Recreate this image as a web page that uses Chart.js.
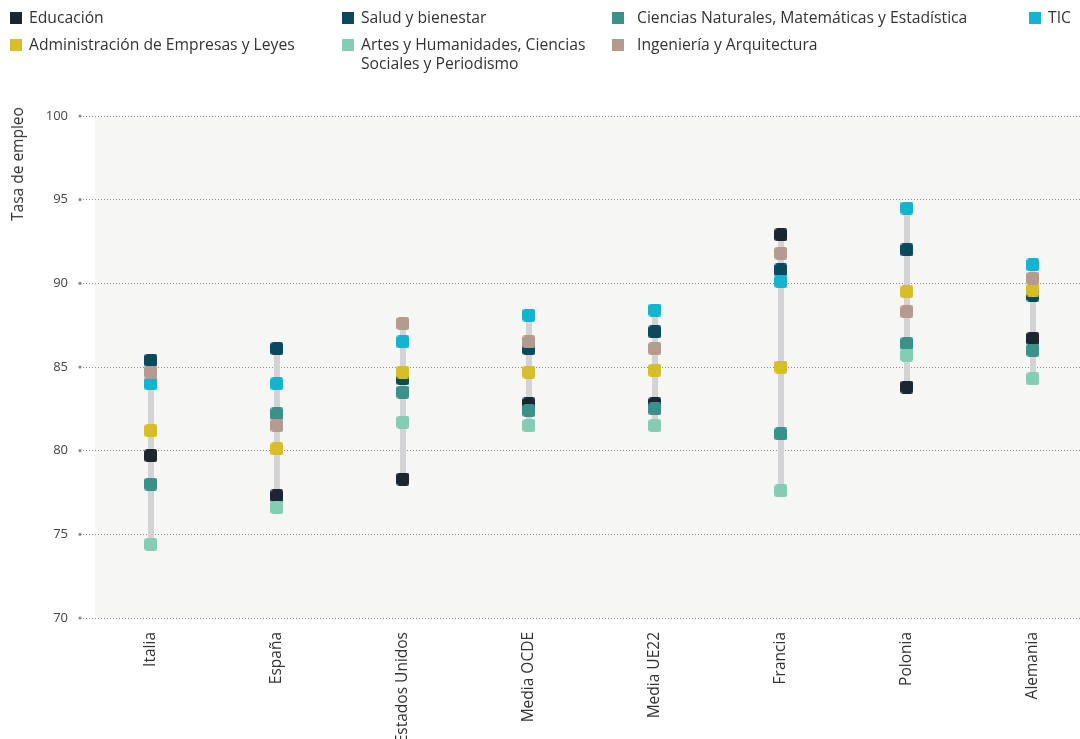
<!DOCTYPE html>
<html><head><meta charset="utf-8">
<script src="https://cdn.jsdelivr.net/npm/chart.js@4/dist/chart.umd.min.js"></script>
<style>
body{margin:0;background:#fff;font-family:"Open Sans",sans-serif;}
#wrap{position:relative;width:1080px;height:739px;overflow:hidden;}
#c{position:absolute;left:0;top:0;}
.li{position:absolute;font-size:15.7px;color:#333;line-height:19px;}
.li .sw{position:absolute;left:0;top:4px;width:12px;height:12px;}
.li .tx{display:block;}
#ytitle{position:absolute;left:17px;top:164px;transform:translate(-50%,-50%) rotate(-90deg);font-size:15.5px;color:#333;white-space:nowrap;}
</style></head>
<body>
<div id="wrap">
<canvas id="c" width="1080" height="739"></canvas>
<div id="legend"></div>
<div id="ytitle">Tasa de empleo</div>
</div>
<script>
const categories = ["Italia","España","Estados Unidos","Media OCDE","Media UE22","Francia","Polonia","Alemania"];
const seriesNames = ["Educación","Salud y bienestar","Ciencias Naturales, Matemáticas y Estadística","TIC","Administración de Empresas y Leyes","Artes y Humanidades, Ciencias Sociales y Periodismo","Ingeniería y Arquitectura"];
const educacion  = [79.7, 77.3, 78.3, 82.8, 82.8, 92.9, 83.8, 86.7];
const salud      = [85.4, 86.1, 84.3, 86.1, 87.1, 90.8, 92.0, 89.3];
const ciencias   = [78.0, 82.2, 83.5, 82.4, 82.5, 81.0, 86.4, 86.0];
const tic        = [84.0, 84.0, 86.5, 88.1, 88.4, 90.1, 94.5, 91.1];
const admin      = [81.2, 80.1, 84.7, 84.7, 84.8, 85.0, 89.5, 89.6];
const artes      = [74.4, 76.6, 81.7, 81.5, 81.5, 77.6, 85.7, 84.3];
const ingenieria = [84.7, 81.5, 87.6, 86.5, 86.1, 91.8, 88.3, 90.3];
const yTicks = [70, 75, 80, 85, 90, 95, 100];

const seriesValues = [educacion, salud, ciencias, tic, admin, artes, ingenieria];
const colors = ["#1b2631","#0b4a5e","#3a918a","#14b3cf","#d8bd2b","#84cdb4","#b59a90"];

const legendPos = [[10,8,300],[342,8,250],[612,8,420],[1029,8,60],[10,35,330],[342,35,245],[612,35,300]];
const leg = document.getElementById('legend');
seriesNames.forEach((n,i)=>{
  const d = document.createElement('div');
  d.className='li';
  d.style.left=legendPos[i][0]+'px'; d.style.top=legendPos[i][1]+'px'; d.style.width=legendPos[i][2]+'px';
  d.innerHTML='<span class="sw" style="background:'+colors[i]+'"></span><span class="tx" style="margin-left:'+(i===2||i===6?25:19)+'px">'+n+'</span>';
  leg.appendChild(d);
});

function marker(color){
  const s=13, r=3;
  const cv=document.createElement('canvas'); cv.width=s; cv.height=s;
  const x=cv.getContext('2d');
  x.fillStyle=color; x.beginPath();
  x.moveTo(r,0); x.lineTo(s-r,0); x.quadraticCurveTo(s,0,s,r); x.lineTo(s,s-r); x.quadraticCurveTo(s,s,s-r,s);
  x.lineTo(r,s); x.quadraticCurveTo(0,s,0,s-r); x.lineTo(0,r); x.quadraticCurveTo(0,0,r,0); x.fill();
  return cv;
}

const rangeData=[];
categories.forEach((c,i)=>{
  const vals=seriesValues.map(s=>s[i]);
  rangeData.push({x:i,y:Math.min(...vals)},{x:i,y:Math.max(...vals)},{x:i+0.5,y:null});
});

const datasets=[{
  label:'range', data:rangeData, borderColor:'#d3d3d5', borderWidth:6, pointRadius:0,
  spanGaps:false, borderCapStyle:'butt', order:100, showLine:true
}];
seriesValues.forEach((s,k)=>{
  datasets.push({
    label:seriesNames[k], data:s.map((v,i)=>({x:i,y:v})), showLine:false,
    pointStyle:marker(colors[k]), pointRadius:6.5, backgroundColor:colors[k], borderColor:colors[k],
    order:7-k
  });
});

const bgPlugin={
  id:'bg',
  beforeDraw(chart){
    const {ctx,chartArea:a}=chart;
    ctx.save(); ctx.fillStyle='#f6f6f4'; ctx.fillRect(a.left,a.top,a.right-a.left,a.bottom-a.top); ctx.restore();
  },
  afterDraw(chart){
    const {ctx,chartArea:a,scales}=chart;
    ctx.save(); ctx.fillStyle='#888';
    yTicks.forEach(t=>{const y=scales.y.getPixelForValue(t); ctx.beginPath(); ctx.arc(a.left-15,y,1.6,0,Math.PI*2); ctx.fill();});
    ctx.restore();
  }
};

new Chart(document.getElementById('c'),{
  type:'line',
  data:{datasets},
  options:{
    responsive:false, animation:false,
    layout:{autoPadding:false, padding:{top:116,left:0,right:0,bottom:0}},
    plugins:{legend:{display:false},tooltip:{enabled:false}},
    scales:{
      x:{type:'linear', min:-0.444, max:7.373,
        afterBuildTicks(sc){sc.ticks=categories.map((c,i)=>({value:i}));},
        afterFit(sc){sc.height=121; sc.paddingRight=0; sc.paddingLeft=0;},
        grid:{display:false}, border:{display:false},
        ticks:{autoSkip:false, minRotation:90, maxRotation:90, padding:6, color:'#333',
          font:{family:'"Open Sans"',size:15.5}, callback:(v)=>categories[v]}
      },
      y:{min:70,max:100,
        afterBuildTicks(sc){sc.ticks=yTicks.map(v=>({value:v}));},
        afterFit(sc){sc.width=95;},
        border:{display:false, dash:[1,2]},
        grid:{color:'#8c8c8c', lineWidth:1, tickLength:15, tickBorderDash:[1,2], tickColor:'#8c8c8c'},
        ticks:{padding:12, color:'#444', font:{family:'"Open Sans"',size:13}}
      }
    }
  },
  plugins:[bgPlugin]
});
</script>
</body></html>
